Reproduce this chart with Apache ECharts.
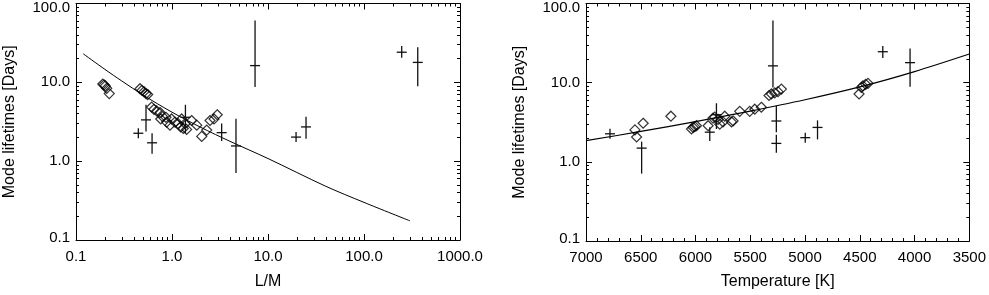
<!DOCTYPE html>
<html><head><meta charset="utf-8">
<script src="https://cdn.jsdelivr.net/npm/echarts@6.0.0/dist/echarts.min.js"></script>
<style>html,body{margin:0;padding:0;background:#fff}#c{width:989px;height:295px}</style>
</head><body><div id="c"></div>
<script>
// ---------- tick values ----------
const logMajorX = [0.1, 1, 10, 100, 1000];
const logMajorY = [0.1, 1, 10, 100];
const tempMajor = [7000, 6500, 6000, 5500, 5000, 4500, 4000, 3500];

// ---------- left panel: L/M ----------
const lmDiamondX = [0.19,0.196,0.202,0.209,0.222,0.464,0.487,0.511,0.536,0.558,0.614,0.649,0.693,0.75,0.80,0.763,0.866,0.88,0.953,0.99,1.075,1.16,1.23,1.31,1.42,1.26,1.37,1.60,1.81,2.04,2.30,2.49,2.74,2.96];
const lmDiamondY = [9.5,9.3,9.0,8.4,7.2,8.3,7.9,7.6,7.2,7.0,4.85,4.54,4.34,4.14,3.67,3.43,3.6,3.13,2.86,3.43,3.13,2.99,2.72,2.6,2.53,3.43,2.99,3.28,2.86,2.06,2.48,3.28,3.43,3.88];
const lmCrossX    = [0.446,0.536,0.62,1.38,3.29,4.64,7.33,19.6,24.9,247,363];
const lmCrossY    = [2.26,3.34,1.71,3.6,2.3,1.56,16.3,2.02,2.72,24.1,17.9];
const lmCrossLow  = [2.26,2.37,1.24,2.26,1.8,0.71,8.7,2.02,1.92,20.5,8.9];
const lmCrossHigh = [2.26,5.2,2.26,5.2,3.0,3.45,61,2.02,3.67,29,27.8];
const lmFitX = [0.119,0.2,0.3,0.5,1.0,2.0,4.0,10,40,100,301];
const lmFitY = [23.0,14.6,10.4,6.9,4.18,2.68,1.79,1.08,0.48,0.30,0.175];

// ---------- right panel: Temperature ----------
const tDiamondX = [6553,6538,6478,6225,6037,6022,6007,5991,5885,5840,5824,5794,5779,5733,5749,5672,5657,5596,5505,5459,5399,5329,5307,5277,5247,5216,4507,4486,4471,4446,4425];
const tDiamondY = [2.53,2.06,3.07,3.77,2.6,2.72,2.78,2.86,2.86,3.57,3.67,3.43,2.99,3.77,3.19,3.19,3.28,4.34,4.34,4.62,4.89,6.89,7.2,7.43,7.7,8.3,7.2,8.72,9.1,9.52,9.8];
const tCrossX    = [6781,6492,5870,5809,5293,5262,5262,4998,4886,4290,4041];
const tCrossY    = [2.26,1.49,2.37,3.94,16.3,3.28,1.71,2.02,2.72,24.6,17.9];
const tCrossLow  = [2.26,0.71,1.83,2.6,8.7,2.37,1.3,2.02,1.92,20.5,8.9];
const tCrossHigh = [2.26,1.8,2.73,5.5,61,5.1,2.2,2.02,3.34,29,27];
const tFitX = [7000,6500,6000,5500,5000,4500,4000,3500];
const tFitY = [1.85,2.42,3.22,4.37,6.08,8.83,13.8,23.0];

// ---------- helpers ----------
function minorLog(lo, hi){ const out=[]; for(let d=lo; d<hi-1e-9; d*=10){ for(let k=2;k<=9;k++) out.push(+(d*k).toPrecision(3)); } return out; }
const logMinorX = minorLog(0.1, 1000);
const logMinorY = minorLog(0.1, 100);

const FONT = 'Liberation Sans';
const TXT = '#000';
const LBL = 15, TTL = 16;
function fmtLogY(v){
  if (Math.abs(v-100)<1e-6) return '{t|100.0}';
  if (Math.abs(v-0.1)<1e-9) return '{b|0.1}';
  return v.toFixed(1);
}
function fmtLogX(v){ return v.toFixed(1); }
const richY = {
  t:{fontSize:LBL,fontFamily:FONT,color:TXT,padding:[8,0,0,0]},
  b:{fontSize:LBL,fontFamily:FONT,color:TXT,padding:[0,0,5,0]}
};
const lineSt = {color:'#000', width:1};

function logAxis(dim, grid, pos, opts){
  const o = {
    type:'log', logBase:10, gridIndex:grid, position:pos,
    min:0.1, max: dim==='x'?1000:100,
    axisLine:{show:!!opts.line, lineStyle:lineSt},
    axisTick:{show:true, inside:true, length:opts.len, customValues:opts.ticks, lineStyle:lineSt},
    axisLabel:{show:false},
    splitLine:{show:false}, minorTick:{show:false}, minorSplitLine:{show:false}
  };
  if (opts.labels){
    o.axisLabel = dim==='x'
      ? {show:true, customValues: opts.labels, formatter: fmtLogX, fontSize:LBL, fontFamily:FONT, color:TXT, margin:9}
      : {show:true, customValues: opts.labels, formatter: fmtLogY, fontSize:LBL, fontFamily:FONT, color:TXT, margin:6, rich:richY};
  }
  if (opts.name){
    Object.assign(o, {name:opts.name, nameLocation:'middle', nameGap:opts.nameGap,
      nameTextStyle:{fontSize:TTL, fontFamily:FONT, color:TXT}});
  }
  return o;
}

function crossRender(params, api){
  const x = api.value(0), y = api.value(1), lo = api.value(2), hi = api.value(3);
  const c = api.coord([x,y]);
  const cLo = api.coord([x,lo]); const cHi = api.coord([x,hi]);
  const h = 5;
  const top = Math.min(c[1]-h, cHi[1]); const bot = Math.max(c[1]+h, cLo[1]);
  const st = {stroke:'#111', lineWidth:1.3};
  return {type:'group', children:[
    {type:'line', shape:{x1:c[0]-h, y1:c[1], x2:c[0]+h, y2:c[1]}, style:st},
    {type:'line', shape:{x1:c[0], y1:top, x2:c[0], y2:bot}, style:st}
  ]};
}
function zip(...arrs){ return arrs[0].map((_,i)=>arrs.map(a=>a[i])); }

const yAxes = [];
[0,1].forEach(g=>{
  yAxes.push(logAxis('y', g, 'left',  {line:true, len:6, ticks:logMajorY, labels:logMajorY, name:'Mode lifetimes [Days]', nameGap:58}));
  yAxes.push(logAxis('y', g, 'left',  {line:false, len:3, ticks:logMinorY}));
  yAxes.push(logAxis('y', g, 'right', {line:true, len:6, ticks:logMajorY}));
  yAxes.push(logAxis('y', g, 'right', {line:false, len:3, ticks:logMinorY}));
});

const tempAxisBase = {
  type:'value', gridIndex:1, min:3500, max:7000, interval:500, inverse:true,
  axisLine:{show:true, lineStyle:lineSt},
  axisTick:{show:true, inside:true, length:6, lineStyle:lineSt},
  minorTick:{show:true, splitNumber:5, length:3, lineStyle:lineSt},
  splitLine:{show:false}, minorSplitLine:{show:false}
};

const diamondStyle = {color:'rgba(0,0,0,0)', borderColor:'#000', borderWidth:1.2};

const option = {
  animation:false,
  backgroundColor:'#fff',
  grid:[
    {left:76, right:529, top:1, bottom:47, containLabel:false},
    {left:586, right:19, top:1, bottom:47, containLabel:false}
  ],
  xAxis:[
    logAxis('x', 0, 'bottom', {line:true, len:6, ticks:logMajorX, labels:logMajorX, name:'L/M', nameGap:34}),
    logAxis('x', 0, 'bottom', {line:false, len:3, ticks:logMinorX}),
    logAxis('x', 0, 'top',    {line:true, len:6, ticks:logMajorX}),
    logAxis('x', 0, 'top',    {line:false, len:3, ticks:logMinorX}),
    Object.assign({}, tempAxisBase, {position:'bottom',
      axisLabel:{show:true, fontSize:LBL, fontFamily:FONT, color:TXT, margin:9, formatter:v=>String(v)},
      name:'Temperature [K]', nameLocation:'middle', nameGap:33,
      nameTextStyle:{fontSize:TTL, fontFamily:FONT, color:TXT}}),
    Object.assign({}, tempAxisBase, {position:'top', axisLabel:{show:false}})
  ],
  yAxis: yAxes,
  series:[
    {type:'line', xAxisIndex:0, yAxisIndex:0, data:zip(lmFitX, lmFitY), smooth:0.3, showSymbol:false, symbol:'none',
     lineStyle:{color:'#000', width:1}, silent:true, z:2},
    {type:'scatter', xAxisIndex:0, yAxisIndex:0, data:zip(lmDiamondX, lmDiamondY), symbol:'diamond', symbolSize:[10,10],
     itemStyle:diamondStyle, silent:true, z:3},
    {type:'custom', xAxisIndex:0, yAxisIndex:0, data:zip(lmCrossX, lmCrossY, lmCrossLow, lmCrossHigh),
     encode:{x:0, y:1}, renderItem:crossRender, silent:true, z:4},
    {type:'line', xAxisIndex:4, yAxisIndex:4, data:zip(tFitX, tFitY), smooth:0.3, showSymbol:false, symbol:'none',
     lineStyle:{color:'#000', width:1.2}, silent:true, z:2},
    {type:'scatter', xAxisIndex:4, yAxisIndex:4, data:zip(tDiamondX, tDiamondY), symbol:'diamond', symbolSize:[10,10],
     itemStyle:diamondStyle, silent:true, z:3},
    {type:'custom', xAxisIndex:4, yAxisIndex:4, data:zip(tCrossX, tCrossY, tCrossLow, tCrossHigh),
     encode:{x:0, y:1}, renderItem:crossRender, silent:true, z:4}
  ]
};
const chart = echarts.init(document.getElementById('c'), null, {renderer:'canvas'});
chart.setOption(option);
</script>
</body></html>
